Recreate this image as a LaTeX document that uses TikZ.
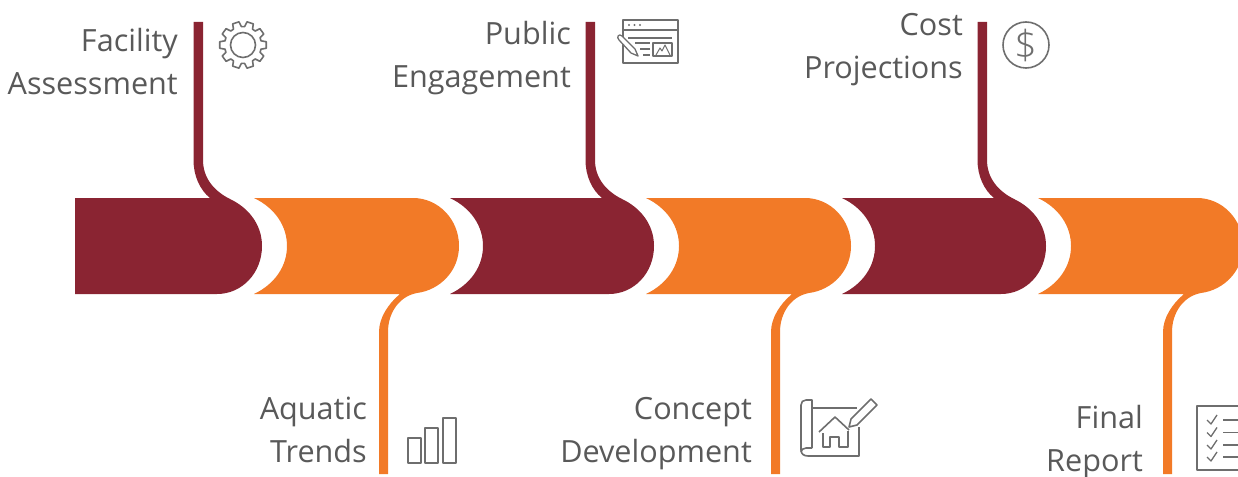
\documentclass[tikz,border=0pt]{standalone}
\usepackage{fontspec}
\setmainfont{Open Sans}
\newfontfamily\iconfont{Open Sans Light}
\definecolor{wine}{HTML}{8A2432}
\definecolor{amber}{HTML}{F27A27}
\definecolor{labelgrey}{HTML}{595959}
\definecolor{icongrey}{HTML}{6E6E6E}
\newcommand{\darkright}{%
  -- (210,198) .. controls (200,190) and (193.5,176) .. (193.5,160) -- (193.5,22) -- (203,22) -- (203,160)
  .. controls (203,178) and (214,191) .. (230,199)
  .. controls (249,208) and (262,225) .. (262,246)
  .. controls (262,273) and (242,294) .. (217,294)}
\tikzset{
  lab/.style={anchor=base east,inner sep=0pt,text=labelgrey,font=\fontsize{30.6}{43}\selectfont,align=right},
  icon/.style={draw=icongrey,line width=1.6pt,line join=round},
  thinicon/.style={draw=icongrey,line width=1.3pt,line join=round}
}
\begin{document}
\begin{tikzpicture}[x=1pt,y=-1pt]
\useasboundingbox (0,0) rectangle (1238,476);
\clip (0,0) rectangle (1238,476);
% first dark segment (flat left end)
\fill[wine] (75,198) \darkright -- (75,294) -- cycle;
% later dark segments
\foreach \dx in {392,784}{
  \begin{scope}[shift={(\dx pt,0)}]
  \fill[wine] (58,198) \darkright -- (58,294)
    .. controls (79,284) and (91,266) .. (91,246)
    .. controls (91,226) and (79,208) .. (58,198) -- cycle;
  \end{scope}
}
% orange segments
\foreach \dx in {0,392,784}{
  \begin{scope}[shift={(\dx pt,0)}]
  \fill[amber] (254,198) -- (413,198)
    .. controls (438,198) and (459,219) .. (459,246)
    .. controls (459,271) and (440,290) .. (417,293)
    .. controls (400,296) and (388,312) .. (388,332)
    -- (388,474) -- (379,474) -- (379,332)
    .. controls (379,318) and (388,304) .. (400,294)
    -- (254,294)
    .. controls (275,284) and (287,266) .. (287,246)
    .. controls (287,226) and (275,208) .. (254,198) -- cycle;
  \end{scope}
}
% labels
\node[lab] (facility) at (178,52) {Facility};
\node[lab] (assessment) at (178,95) {Assessment};
\node[lab] (public) at (571,45) {Public};
\node[lab] (engagement) at (571,88) {Engagement};
\node[lab] (cost) at (963,36) {Cost};
\node[lab] (projections) at (963,79) {Projections};
\node[lab] (aquatic) at (367,419) {Aquatic};
\node[lab] (trends) at (367,462) {Trends};
\node[lab] (concept) at (752,419) {Concept};
\node[lab] (development) at (752,462) {Development};
\node[lab] (final) at (1143,428) {Final};
\node[lab] (report) at (1143,471) {Report};
% gear icon
\begin{scope}[shift={(243,45)}]
  \draw[icon] (0,0) circle (12.5);
  \draw[icon] (8:23.5)
   \foreach \a in {0,36,...,324}{
     -- (\a+8:23.5) -- (\a+13:18.5) -- (\a+23:18.5) -- (\a+28:23.5)
   } -- cycle;
\end{scope}
% dollar icon
\draw[icon] (1026,45) circle (23);
\node[inner sep=0pt,text=icongrey,font=\iconfont\fontsize{40}{40}\selectfont] (dollar) at (1026,45) {\$};
% bars icon
\draw[icon,line width=2pt] (407.5,437.5) rectangle (420.5,463);
\draw[icon,line width=2pt] (424.5,427.5) rectangle (438,463);
\draw[icon,line width=2pt] (442.5,417.5) rectangle (456,463);
% browser icon
\draw[thinicon] (623,20) rectangle (678,63);
\draw[thinicon] (623,30) -- (678,30);
\fill[icongrey] (629,25) circle (1.2) (634.5,25) circle (1.2) (640,25) circle (1.2);
\draw[thinicon] (628,38) -- (672,38) (635,43) -- (650,43) (640,49) -- (650,49) (643,55) -- (650,55);
\draw[thinicon] (653,43) rectangle (672,56);
\draw[thinicon,line width=1pt] (656,55) -- (660,48) -- (662,51) -- (665,45) -- (670,55);
\draw[thinicon,fill=white] (638,56) -- (635,49) -- (622,36) .. controls (619,33) and (616,37) .. (619,40) -- (631,53) -- cycle;
% blueprint icon
\draw[thinicon,line width=1.6pt] (812,408) -- (857,408);
\draw[thinicon,line width=1.6pt] (812,448) -- (812,400) -- (806,400) .. controls (803,400) and (801,402) .. (801,405) -- (801,450)
  .. controls (801,454) and (804,456) .. (808,456) -- (859,456) -- (859,427);
\draw[thinicon,line width=1.6pt] (812,448) -- (806,448) .. controls (803,448) and (801,450) .. (801,452);
\draw[thinicon,line width=1.6pt] (819,432) -- (835,417) -- (849,430);
\draw[thinicon,line width=1.6pt] (823,433) -- (823,447) -- (830,447) -- (830,437) -- (839,437) -- (839,447) -- (848,447) -- (848,431);
\draw[thinicon,line width=1.6pt] (849,427) -- (851,419) -- (871,399) -- (877,405) -- (857,425) -- cycle;
% checklist icon
\draw[thinicon,line width=1.6pt] (1238,406) -- (1197,406) -- (1197,470) -- (1238,470);
\foreach \r in {420,432.5,445,457}{
  \draw[thinicon] (1207,\r) -- (1211,\r+4) -- (1217,\r-5);
  \draw[thinicon] (1223,\r) -- (1240,\r);
}
\end{tikzpicture}
\end{document}
